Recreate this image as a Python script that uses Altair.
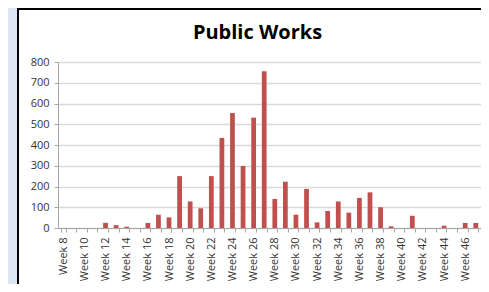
import altair as alt
import pandas as pd

weeks = [f"Week {w}" for w in range(8, 48)]
values = [0, 0, 0, 0,
          25, 14, 6, 0,
          24, 64, 51, 250,
          128, 95, 250, 434,
          554, 299, 532, 755,
          140, 223, 64, 188,
          27, 82, 128, 74,
          145, 172, 100, 8,
          0, 59, 0, 0,
          11, 0, 24, 24]
y_ticks = [0, 100, 200, 300, 400, 500, 600, 700, 800]

title = "Public Works"
bar_color = "#c0504d"
page_blue = "#dce6f2"

df = pd.DataFrame({"week": weeks, "value": values})
one = pd.DataFrame({"k": [0]})

W, H = 423, 166
FONT = "Open Sans"

bars = alt.Chart(df).mark_bar(color=bar_color).encode(
    x=alt.X(
        "week:N",
        sort=weeks,
        title=None,
        scale=alt.Scale(paddingInner=0.55, paddingOuter=0.27),
        axis=alt.Axis(
            labelAngle=-90,
            labelExpr="parseInt(substring(datum.label, 5)) % 2 == 0 ? datum.label : ''",
            labelOverlap=False,
            labelFont=FONT,
            labelFontSize=11,
            labelColor="#333333",
            labelPadding=5,
            tickBand="extent",
            tickSize=4,
            tickColor="#a6a6a6",
            domainColor="#a6a6a6",
            grid=False,
        ),
    ),
    y=alt.Y(
        "value:Q",
        title=None,
        scale=alt.Scale(domain=[0, 800], nice=False),
        axis=alt.Axis(
            values=y_ticks,
            labelFont=FONT,
            labelFontSize=11,
            labelColor="#333333",
            labelPadding=5,
            tickSize=4,
            tickColor="#a6a6a6",
            domainColor="#a6a6a6",
            gridColor="#d9d9d9",
            gridWidth=1.3,
        ),
    ),
)

blue_strip = alt.Chart(one).mark_rect(color=page_blue).encode(
    x=alt.value(-50), x2=alt.value(-41), y=alt.value(-54), y2=alt.value(222)
)
left_border = alt.Chart(one).mark_rect(color="black").encode(
    x=alt.value(-41), x2=alt.value(-39), y=alt.value(-54), y2=alt.value(222)
)
top_border = alt.Chart(one).mark_rect(color="black").encode(
    x=alt.value(-41), x2=alt.value(W), y=alt.value(-54), y2=alt.value(-52)
)
title_text = alt.Chart(one).mark_text(
    text=title,
    font=FONT,
    fontSize=20,
    fontWeight="bold",
    color="black",
    align="center",
    baseline="alphabetic",
).encode(x=alt.value(199.5), y=alt.value(-23))

chart = alt.layer(blue_strip, left_border, top_border, title_text, bars).properties(
    width=W,
    height=H,
    autosize=alt.AutoSizeParams(type="none"),
    padding={"left": 50, "top": 54, "right": 0, "bottom": 56},
    background="white",
).configure_view(stroke=None)

chart.save("out.html", embed_options={"renderer": "svg", "actions": False})
